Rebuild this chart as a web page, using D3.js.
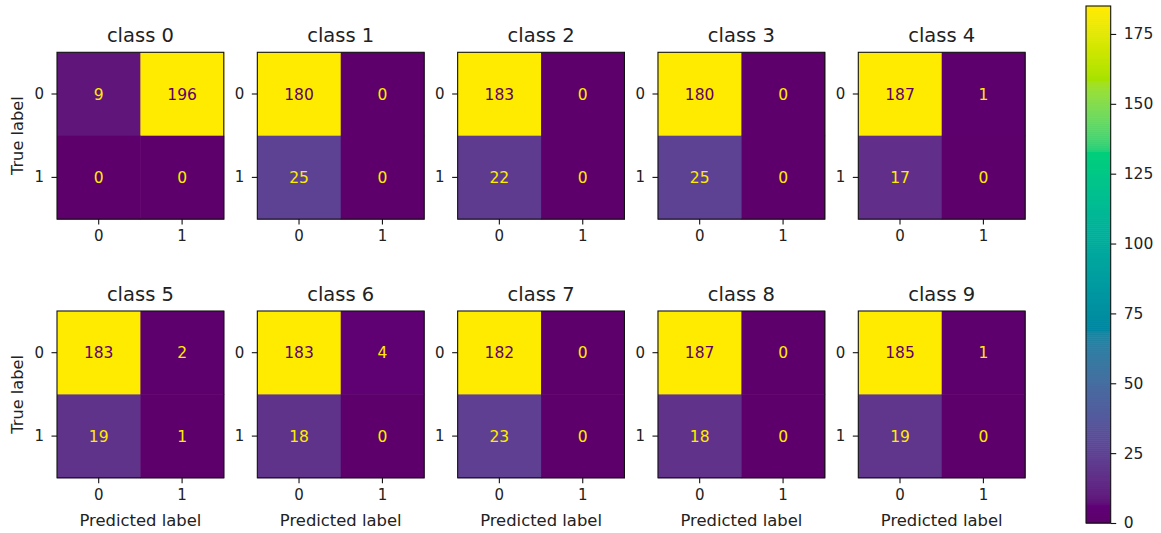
<!DOCTYPE html>
<html>
<head>
<meta charset="utf-8">
<script src="https://cdn.jsdelivr.net/npm/d3@7"></script>
<style>
  body { margin: 0; background: #fff; }
  text { font-family: "DejaVu Sans", sans-serif; fill: #222; }
</style>
</head>
<body>
<div id="chart"></div>
<script>
// Confusion matrix values per class: [true0/pred0, true0/pred1, true1/pred0, true1/pred1]
const classNames = ['class 0', 'class 1', 'class 2', 'class 3', 'class 4',
                    'class 5', 'class 6', 'class 7', 'class 8', 'class 9'];
const tn = [9, 180, 183, 180, 187, 183, 183, 182, 187, 185];
const fp = [196, 0, 0, 0, 1, 2, 4, 0, 0, 1];
const fn = [0, 25, 22, 25, 17, 19, 18, 23, 18, 19];
const tp = [0, 0, 0, 0, 0, 1, 0, 0, 0, 0];
const labels = ['0', '1'];
const colorbarTicks = [0, 25, 50, 75, 100, 125, 150, 175];
const colorbarMax = 185;

const w = 1161;
const h = 533;
const panel = 166.8;

const svg = d3.select('#chart')
  .append('svg')
  .attr('width', w)
  .attr('height', h);

// panel placement
const colX = d3.scaleLinear().domain([0, 4]).range([57, 858.3]);
const rowY = d3.scaleLinear().domain([0, 1]).range([52.3, 311]);

const cellScale = d3.scaleBand().domain(labels).range([0, panel]);

// viridis as it shows in the reference picture (more saturated, a bit brighter)
const k = 0.65;
const toLin = v => Math.pow(v / 255, 2.2);
const toEnc = v => 255 * Math.pow(Math.max(0, Math.min(1, v)), 1 / 2.2 * 0.8);
const viridis = t => {
  const c = d3.rgb(d3.interpolateViridis(t));
  const r = toLin(c.r), g = toLin(c.g), b = toLin(c.b);
  const r2 = r + k * (0.2249 * r - 0.2247 * g);
  const g2 = g + k * (-0.0420 * r + 0.0419 * g);
  const b2 = b + k * (-0.0197 * r - 0.0786 * g + 0.0979 * b);
  return d3.rgb(toEnc(r2), toEnc(g2), toEnc(b2)).formatHex();
};

const tickFont = '15px';

classNames.forEach((name, i) => {
  const col = i % 5;
  const row = Math.floor(i / 5);
  const g = svg.append('g')
    .attr('transform', `translate(${colX(col)}, ${rowY(row)})`);

  const cells = [
    { t: '0', p: '0', v: tn[i] },
    { t: '0', p: '1', v: fp[i] },
    { t: '1', p: '0', v: fn[i] },
    { t: '1', p: '1', v: tp[i] }
  ];
  const vmin = d3.min(cells, d => d.v);
  const vmax = d3.max(cells, d => d.v);
  const color = d3.scaleSequential(viridis).domain([vmin, vmax]);
  const thresh = (vmin + vmax) / 2;

  g.selectAll('rect.cell')
    .data(cells)
    .join('rect')
    .attr('class', 'cell')
    .attr('x', d => cellScale(d.p))
    .attr('y', d => cellScale(d.t))
    .attr('width', cellScale.bandwidth() + 0.5)
    .attr('height', cellScale.bandwidth() + 0.5)
    .attr('fill', d => color(d.v));

  g.selectAll('text.val')
    .data(cells)
    .join('text')
    .attr('class', 'val')
    .attr('x', d => cellScale(d.p) + cellScale.bandwidth() / 2)
    .attr('y', d => cellScale(d.t) + cellScale.bandwidth() / 2)
    .attr('dy', '0.36em')
    .attr('text-anchor', 'middle')
    .style('font-size', '15.5px')
    .style('fill', d => d.v < thresh ? viridis(1) : viridis(0))
    .text(d => d.v);

  // frame
  g.append('rect')
    .attr('width', panel)
    .attr('height', panel)
    .attr('fill', 'none')
    .attr('stroke', '#111')
    .attr('stroke-width', 1.1);

  // axes
  const xAxis = d3.axisBottom(cellScale).tickSize(5.5).tickPadding(6);
  const yAxis = d3.axisLeft(cellScale).tickSize(5.5).tickPadding(7.5);

  const gx = g.append('g')
    .attr('transform', `translate(0, ${panel})`)
    .call(xAxis);
  const gy = g.append('g').call(yAxis);

  [gx, gy].forEach(a => {
    a.select('.domain').remove();
    a.selectAll('.tick line').attr('stroke', '#111').attr('stroke-width', 1.1);
    a.selectAll('.tick text')
      .style('font-size', tickFont)
      .style('font-family', '"DejaVu Sans", sans-serif')
      .attr('fill', '#222');
  });

  g.append('text')
    .attr('x', panel / 2)
    .attr('y', -10.5)
    .attr('text-anchor', 'middle')
    .style('font-size', '19.5px')
    .text(name);

  if (col === 0) {
    g.append('text')
      .attr('transform', `translate(-34, ${panel / 2}) rotate(-90)`)
      .attr('text-anchor', 'middle')
      .style('font-size', '16.2px')
      .text('True label');
  }
  if (row === 1) {
    g.append('text')
      .attr('x', panel / 2)
      .attr('y', panel + 48.5)
      .attr('text-anchor', 'middle')
      .style('font-size', '16.4px')
      .text('Predicted label');
  }
});

// Colorbar
const cbX = 1086;
const cbW = 24.7;
const cbScale = d3.scaleLinear().domain([0, colorbarMax]).range([523, 6]);
const cbColor = d3.scaleSequential(viridis).domain([0, colorbarMax]);
const steps = d3.range(0, colorbarMax, colorbarMax / 256);

const cb = svg.append('g');
cb.selectAll('rect')
  .data(steps)
  .join('rect')
  .attr('x', cbX)
  .attr('y', d => cbScale(d + colorbarMax / 256))
  .attr('width', cbW)
  .attr('height', d => cbScale(d) - cbScale(d + colorbarMax / 256) + 0.6)
  .attr('fill', d => cbColor(d));

cb.append('rect')
  .attr('x', cbX)
  .attr('y', cbScale(colorbarMax))
  .attr('width', cbW)
  .attr('height', cbScale(0) - cbScale(colorbarMax))
  .attr('fill', 'none')
  .attr('stroke', '#111')
  .attr('stroke-width', 1.1);

const cbAxis = d3.axisRight(cbScale)
  .tickValues(colorbarTicks)
  .tickSize(5.5)
  .tickPadding(7.5);

const gcb = svg.append('g')
  .attr('transform', `translate(${cbX + cbW}, 0)`)
  .call(cbAxis);
gcb.select('.domain').remove();
gcb.selectAll('.tick line').attr('stroke', '#111').attr('stroke-width', 1.1);
gcb.selectAll('.tick text')
  .style('font-size', '15.5px')
  .style('font-family', '"DejaVu Sans", sans-serif')
  .attr('fill', '#222');
</script>
</body>
</html>
